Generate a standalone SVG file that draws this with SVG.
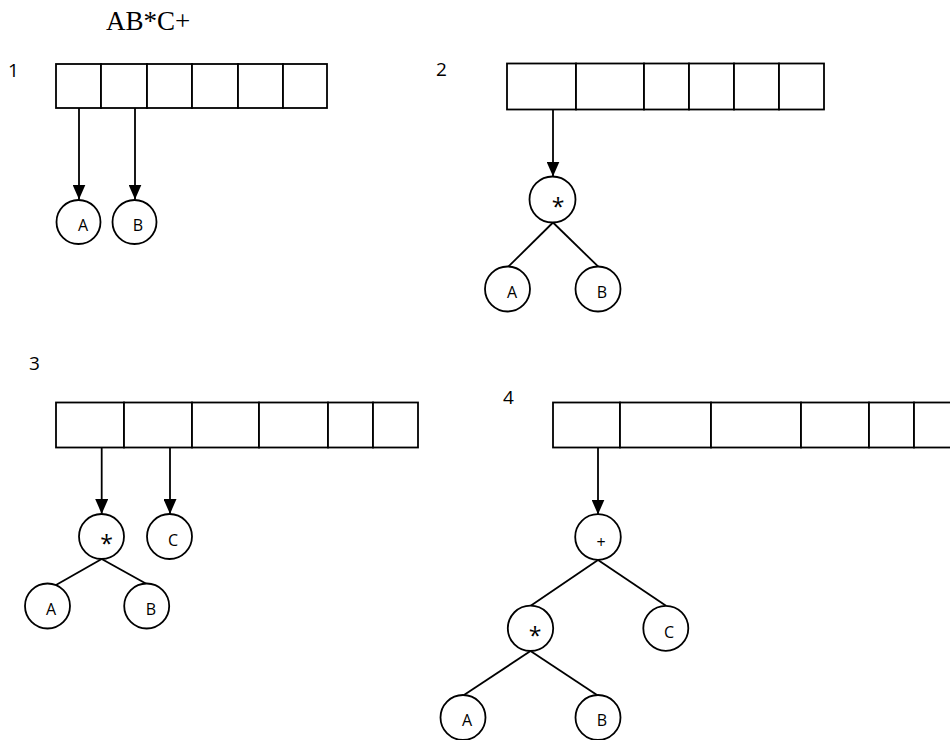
<svg xmlns="http://www.w3.org/2000/svg" width="950" height="740" viewBox="0 0 950 740">
<style>
.cell{fill:#fff;stroke:#000;stroke-width:1.8}
.nd{fill:#fff;stroke:#000;stroke-width:1.8}
.lbl{font-family:"Open Sans","Liberation Sans",sans-serif;font-size:16px;fill:#000;text-anchor:middle}
.op{font-family:"Open Sans","Liberation Sans",sans-serif;font-size:23px;fill:#000;text-anchor:middle}
.plus{font-family:"Open Sans","Liberation Sans",sans-serif;font-size:16px;fill:#000;text-anchor:middle}
.num{font-family:"Open Sans","Liberation Sans",sans-serif;font-size:19px;fill:#000}
.ttl{font-family:"Liberation Serif","Times New Roman",serif;font-size:27px;fill:#000}
.ar{stroke:#000;stroke-width:1.8;fill:none;marker-end:url(#ah)}
.ed{stroke:#000;stroke-width:1.8;fill:none}
</style>
<defs>
<marker id="ah" viewBox="0 0 15 13" refX="15" refY="6.5" markerWidth="15" markerHeight="13" markerUnits="userSpaceOnUse" orient="auto">
<path d="M0,0 L15,6.5 L0,13 z" fill="#000"/>
</marker>
</defs>
<rect width="950" height="740" fill="#fff"/>
<text class="ttl" x="106" y="30">AB*C+</text>
<text class="num" x="8" y="77">1</text>
<text class="num" x="436" y="76">2</text>
<text class="num" x="29" y="370">3</text>
<text class="num" x="503" y="404">4</text>

<g id="array1">
<rect class="cell" x="56" y="64" width="45" height="44"/>
<rect class="cell" x="101" y="64" width="46" height="44"/>
<rect class="cell" x="147" y="64" width="45" height="44"/>
<rect class="cell" x="192" y="64" width="46" height="44"/>
<rect class="cell" x="238" y="64" width="45" height="44"/>
<rect class="cell" x="283" y="64" width="44" height="44"/>
</g>
<g id="array2">
<rect class="cell" x="507" y="63.5" width="69" height="46"/>
<rect class="cell" x="576" y="63.5" width="68" height="46"/>
<rect class="cell" x="644" y="63.5" width="45" height="46"/>
<rect class="cell" x="689" y="63.5" width="45" height="46"/>
<rect class="cell" x="734" y="63.5" width="45" height="46"/>
<rect class="cell" x="779" y="63.5" width="45" height="46"/>
</g>
<g id="array3">
<rect class="cell" x="56" y="402.5" width="68" height="45"/>
<rect class="cell" x="124" y="402.5" width="68" height="45"/>
<rect class="cell" x="192" y="402.5" width="67" height="45"/>
<rect class="cell" x="259" y="402.5" width="69" height="45"/>
<rect class="cell" x="328" y="402.5" width="45" height="45"/>
<rect class="cell" x="373" y="402.5" width="45" height="45"/>
</g>
<g id="array4">
<rect class="cell" x="553" y="402.5" width="67" height="45"/>
<rect class="cell" x="620" y="402.5" width="91" height="45"/>
<rect class="cell" x="711" y="402.5" width="90" height="45"/>
<rect class="cell" x="801" y="402.5" width="68" height="45"/>
<rect class="cell" x="869" y="402.5" width="45" height="45"/>
<rect class="cell" x="914" y="402.5" width="46" height="45"/>
</g>

<g id="connectors">
<line class="ar" x1="79" y1="108" x2="79" y2="199.5"/>
<line class="ar" x1="135" y1="108" x2="135" y2="199.5"/>
<line class="ar" x1="553" y1="109.5" x2="553" y2="176.5"/>
<line class="ed" x1="553" y1="222.5" x2="508.3" y2="266.7"/>
<line class="ed" x1="553" y1="222.5" x2="598.3" y2="266.7"/>
<line class="ar" x1="101.7" y1="447.5" x2="101.7" y2="514"/>
<line class="ar" x1="170" y1="447.5" x2="170" y2="514"/>
<line class="ed" x1="101.7" y1="559" x2="56" y2="585"/>
<line class="ed" x1="101.7" y1="559" x2="146.7" y2="584"/>
<line class="ar" x1="598" y1="447.5" x2="598" y2="514.5"/>
<line class="ed" x1="598" y1="560" x2="530.7" y2="605.7"/>
<line class="ed" x1="598" y1="560" x2="666" y2="605.7"/>
<line class="ed" x1="530.5" y1="651" x2="464" y2="695"/>
<line class="ed" x1="530.5" y1="651" x2="597" y2="695"/>
</g>

<g id="t1A"><circle class="nd" cx="78.5" cy="222" r="22"/><text class="lbl" x="83" y="231">A</text></g>
<g id="t1B"><circle class="nd" cx="134.5" cy="222" r="22"/><text class="lbl" x="138" y="231">B</text></g>

<g id="t2mul"><circle class="nd" cx="552.5" cy="199.5" r="23"/><text class="op" x="558" y="215">*</text></g>
<g id="t2A"><circle class="nd" cx="507.5" cy="289" r="22.5"/><text class="lbl" x="512" y="298">A</text></g>
<g id="t2B"><circle class="nd" cx="598" cy="289" r="22.5"/><text class="lbl" x="602" y="298">B</text></g>

<g id="t3mul"><circle class="nd" cx="101.5" cy="536.5" r="22.5"/><text class="op" x="106.5" y="552">*</text></g>
<g id="t3C"><circle class="nd" cx="169.5" cy="536.5" r="22.5"/><text class="lbl" x="173" y="546">C</text></g>
<g id="t3A"><circle class="nd" cx="47.5" cy="606" r="22.5"/><text class="lbl" x="51" y="615">A</text></g>
<g id="t3B"><circle class="nd" cx="146.7" cy="606" r="22.5"/><text class="lbl" x="151" y="615">B</text></g>

<g id="t4plus"><circle class="nd" cx="598" cy="537" r="22.8"/><text class="plus" x="601" y="548">+</text></g>
<g id="t4mul"><circle class="nd" cx="530.5" cy="628.3" r="22.7"/><text class="op" x="535" y="644">*</text></g>
<g id="t4C"><circle class="nd" cx="665.8" cy="628.3" r="22.5"/><text class="lbl" x="669" y="638">C</text></g>
<g id="t4A"><circle class="nd" cx="463" cy="717.5" r="22.5"/><text class="lbl" x="467" y="726">A</text></g>
<g id="t4B"><circle class="nd" cx="598" cy="717.5" r="22.5"/><text class="lbl" x="602" y="726">B</text></g>
</svg>
